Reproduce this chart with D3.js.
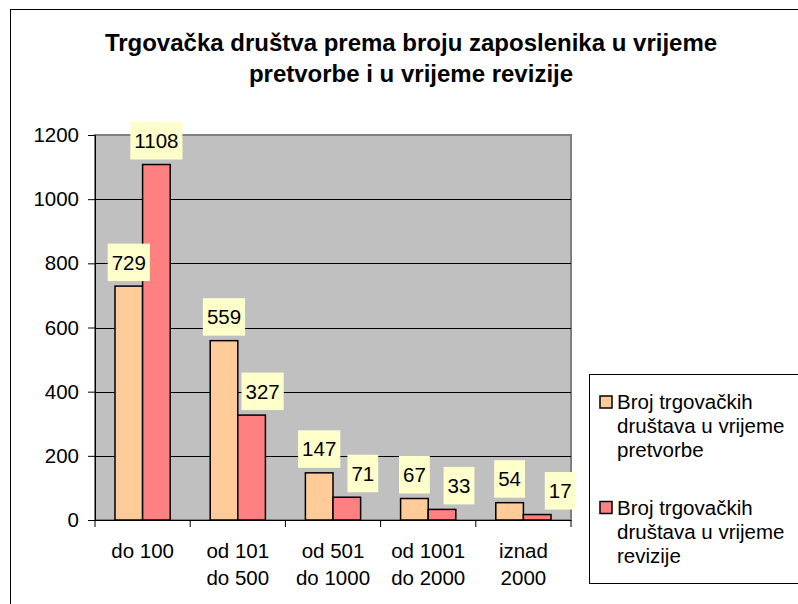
<!DOCTYPE html>
<html>
<head>
<meta charset="utf-8">
<script src="https://cdn.jsdelivr.net/npm/d3@7"></script>
<style>
  body { margin: 0; background: #fff; }
  svg { display: block; font-family: Arial, "Liberation Sans", sans-serif; }
</style>
</head>
<body>
<div id="chart"></div>
<script>
const titleLines = ["Trgovačka društva prema broju zaposlenika u vrijeme", "pretvorbe i u vrijeme revizije"]
const categories = [["do 100"], ["od 101", "do 500"], ["od 501", "do 1000"], ["od 1001", "do 2000"], ["iznad", "2000"]]
const seriesNames = [
  ["Broj trgovačkih", "društava u vrijeme", "pretvorbe"],
  ["Broj trgovačkih", "društava u vrijeme", "revizije"]
]
const pretvorba = [729, 559, 147, 67, 54]
const revizija = [1108, 327, 71, 33, 17]
const yTicks = [0, 200, 400, 600, 800, 1000, 1200]

const colors = ["#FFCC99", "#FF8080"]
const W = 798, H = 604
const plot = { left: 95, right: 571, top: 135, bottom: 520 }
const fontSize = 20.5

const svg = d3.select("#chart").append("svg")
  .attr("width", W).attr("height", H)

// chart frame (runs past the right and bottom edge)
svg.append("rect")
  .attr("x", 10.5).attr("y", 9.5)
  .attr("width", 820).attr("height", 620)
  .attr("fill", "#fff").attr("stroke", "#000").attr("stroke-width", 1)

// title
svg.append("text")
  .attr("text-anchor", "middle")
  .style("font-weight", "bold").style("font-size", "24px")
  .selectAll("tspan").data(titleLines).join("tspan")
  .attr("x", 411).attr("y", (d, i) => 51 + i * 31)
  .text(d => d)

const x0 = d3.scaleBand()
  .domain(d3.range(categories.length))
  .range([plot.left, plot.right])
  .paddingInner(0.42).paddingOuter(0.21)
const x1 = d3.scaleBand().domain([0, 1]).range([0, x0.bandwidth()])
const y = d3.scaleLinear().domain([0, 1200]).range([plot.bottom, plot.top])

// plot area
svg.append("rect")
  .attr("x", plot.left).attr("y", plot.top)
  .attr("width", plot.right - plot.left).attr("height", plot.bottom - plot.top)
  .attr("fill", "#C0C0C0").attr("stroke", "#808080").attr("stroke-width", 2)

// gridlines
svg.append("g").selectAll("line")
  .data(yTicks.filter(d => d > 0 && d < 1200))
  .join("line")
  .attr("x1", plot.left).attr("x2", plot.right)
  .attr("y1", d => Math.round(y(d)) + 0.5).attr("y2", d => Math.round(y(d)) + 0.5)
  .attr("stroke", "#000").attr("stroke-width", 1)

// y axis
const yAxis = svg.append("g")
  .attr("transform", `translate(${plot.left},0)`)
  .call(d3.axisLeft(y).tickValues(yTicks).tickFormat(d3.format("d")).tickSize(7).tickPadding(9))
  .attr("font-family", null).attr("font-size", null)
yAxis.select(".domain").attr("stroke", "#000")
yAxis.selectAll("text").style("font-size", fontSize + "px").attr("fill", "#000")

// x axis
const xAxis = svg.append("g")
  .attr("transform", `translate(0,${plot.bottom})`)
xAxis.append("line")
  .attr("x1", plot.left).attr("x2", plot.right)
  .attr("y1", 0.5).attr("y2", 0.5).attr("stroke", "#000")
xAxis.selectAll(".tick").data(d3.range(categories.length + 1)).join("line")
  .attr("class", "tick")
  .attr("x1", i => plot.left + i * (plot.right - plot.left) / categories.length)
  .attr("x2", i => plot.left + i * (plot.right - plot.left) / categories.length)
  .attr("y1", 0).attr("y2", 7).attr("stroke", "#000")
xAxis.selectAll("text").data(categories).join("text")
  .attr("text-anchor", "middle")
  .style("font-size", fontSize + "px")
  .selectAll("tspan").data((d, i) => d.map(s => ({ s, i }))).join("tspan")
  .attr("x", d => x0(d.i) + x0.bandwidth() / 2)
  .attr("y", (d, j) => 38 + j * 27)
  .text(d => d.s)

// bars
const series = [pretvorba, revizija]
const labelDx = [[0, 0, 0, 0, 0], [0, 11, 16, 17, 23]]
series.forEach((vals, s) => {
  const g = svg.append("g")
  g.selectAll("rect").data(vals).join("rect")
    .attr("x", (d, i) => x0(i) + x1(s))
    .attr("y", d => y(d))
    .attr("width", x1.bandwidth())
    .attr("height", d => y(0) - y(d))
    .attr("fill", colors[s])
    .attr("stroke", "#000").attr("stroke-width", 1.5)
})

// data labels
series.forEach((vals, s) => {
  const lab = svg.append("g").selectAll("g").data(vals).join("g")
    .attr("transform", (d, i) => {
      const cx = x0(i) + x1(s) + x1.bandwidth() / 2 + labelDx[s][i]
      return `translate(${cx},${y(d) - 5})`
    })
  lab.append("text")
    .attr("text-anchor", "middle")
    .attr("y", -11.5)
    .style("font-size", fontSize + "px")
    .text(d => d)
  lab.insert("rect", "text")
    .each(function () {
      const w = this.parentNode.querySelector("text").getComputedTextLength() + 8
      d3.select(this).attr("x", -w / 2).attr("width", w)
    })
    .attr("y", -37.5).attr("height", 37.5)
    .attr("fill", "#FFFFCC")
})

// legend
const legend = svg.append("g")
legend.append("rect")
  .attr("x", 589.5).attr("y", 374.5)
  .attr("width", 240).attr("height", 209)
  .attr("fill", "#fff").attr("stroke", "#000")
seriesNames.forEach((lines, s) => {
  const top = 396 + s * 105.5
  legend.append("rect")
    .attr("x", 600).attr("y", top)
    .attr("width", 12).attr("height", 12)
    .attr("fill", colors[s]).attr("stroke", "#000").attr("stroke-width", 1.5)
  legend.append("text")
    .style("font-size", fontSize + "px")
    .selectAll("tspan").data(lines).join("tspan")
    .attr("x", 617).attr("y", (d, j) => top + 13 + j * 24)
    .text(d => d)
})
</script>
</body>
</html>
